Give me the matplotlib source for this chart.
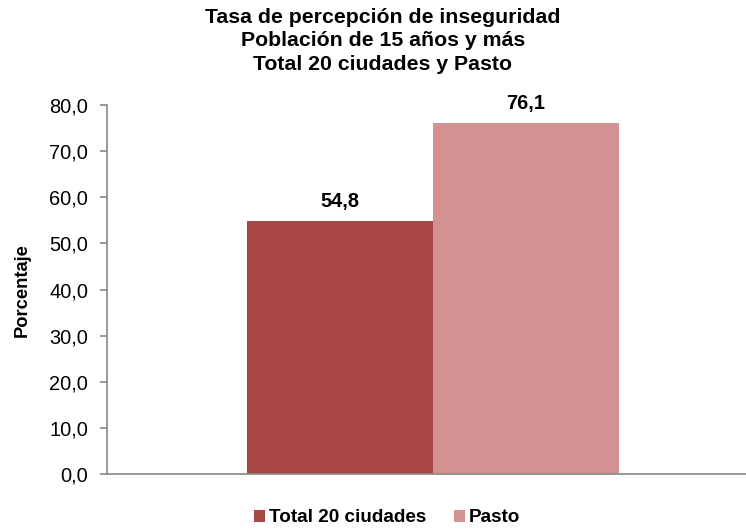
import matplotlib.pyplot as plt

categorias = ["Total 20 ciudades", "Pasto"]
valores = [54.8, 76.1]
colores = ["#A94744", "#D39192"]
yticks = [0, 10, 20, 30, 40, 50, 60, 70, 80]
titulo = "Tasa de percepción de inseguridad\nPoblación de 15 años y más\nTotal 20 ciudades y Pasto"

plt.rcParams["font.family"] = ["Liberation Sans", "DejaVu Sans"]

fig = plt.figure(figsize=(7.46, 5.29), dpi=100)
ax = fig.add_axes([107 / 746, 55 / 529, 639 / 746, 369 / 529])

# barras pegadas, centradas en el grupo
posiciones = [-0.5, 0.5]
for pos, val, col, cat in zip(posiciones, valores, colores, categorias):
    ax.bar(pos, val, width=1.0, color=col, label=cat)
    ax.text(pos, val + 3.0, f"{val:.1f}".replace(".", ","), ha="center", va="baseline",
            fontsize=14.4, fontweight="bold")

ax.set_xlim((107 - 433) / 186, (746 - 433) / 186)
ax.set_ylim(0, 80)
ax.set_yticks(yticks)
ax.set_yticklabels([f"{t:.1f}".replace(".", ",") for t in yticks], fontsize=14.4)
ax.set_xticks([])
ax.tick_params(axis="y", length=5, color="#888888", width=1.2, pad=8.5)

for s in ["top", "right"]:
    ax.spines[s].set_visible(False)
for s in ["left", "bottom"]:
    ax.spines[s].set_color("#888888")
    ax.spines[s].set_linewidth(1.2)

fig.text(22 / 746, 1 - 290 / 529, "Porcentaje", rotation=90, ha="center", va="center",
         fontsize=13.2, fontweight="bold")

fig.text(0.513, 1 - 8 / 529, titulo, ha="center", va="top", fontsize=15.3, fontweight="bold",
         linespacing=1.3)

fig.legend(loc="center", bbox_to_anchor=(0.519, 1 - 518 / 529), ncol=2, frameon=False,
           prop={"weight": "bold", "size": 13.6}, handlelength=0.58, handleheight=0.58,
           handletextpad=0.21, columnspacing=1.43, borderpad=0)

fig.savefig("out.png", dpi=100)
